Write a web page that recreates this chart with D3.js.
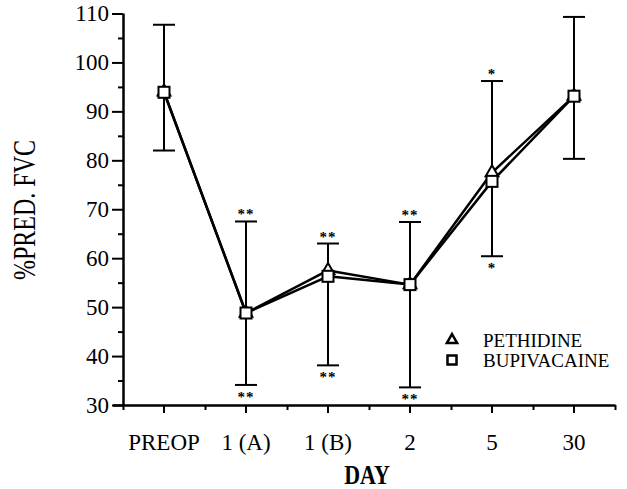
<!DOCTYPE html>
<html>
<head>
<meta charset="utf-8">
<script src="https://cdn.jsdelivr.net/npm/d3@7"></script>
<style>
  body { margin: 0; background: #fff; }
  text { font-family: "Liberation Serif", "Times New Roman", serif; fill: #000; }
</style>
</head>
<body>
<div id="chart"></div>
<script>
var days = ["PREOP", "1 (A)", "1 (B)", "2", "5", "30"];
var pethidine = [94, 48.8, 57.5, 54.6, 77.5, 93.1];
var bupivacaine = [93.9, 48.8, 56.3, 54.6, 75.7, 93.1];
var errHigh = [107.7, 67.5, 63, 67.4, 96.2, 109.3];
var errLow = [82, 34.1, 38.1, 33.6, 60.4, 80.3];
var stars = ["", "**", "**", "**", "*", ""];
var yTicks = [30, 40, 50, 60, 70, 80, 90, 100, 110];
var yMinor = [35, 45, 55, 65, 75, 85, 95, 105];

var w = 627, h = 489;
var svg = d3.select('#chart').append('svg')
  .attr('width', w).attr('height', h);

var x = d3.scaleBand().domain(days).range([123, 615]);
var y = d3.scaleLinear().domain([30, 110]).range([405, 13.5]);
function cx(d) { return x(d) + x.bandwidth() / 2; }

// y axis
var yAxis = svg.append('g').attr('transform', 'translate(123,0)')
  .call(d3.axisLeft(y).tickValues(yTicks).tickSize(11).tickPadding(3));
svg.append('g').attr('transform', 'translate(123,0)')
  .call(d3.axisLeft(y).tickValues(yMinor).tickSize(5).tickFormat(''))
  .select('.domain').remove();

// x axis
var xAxis = svg.append('g').attr('transform', 'translate(0,405)')
  .call(d3.axisBottom(x).tickSize(8));
svg.append('g').attr('transform', 'translate(0,405)')
  .call(d3.axisBottom(d3.scaleLinear().domain([0, 6]).range([123, 615]))
    .ticks(6).tickSize(5).tickFormat(''))
  .select('.domain').remove();

svg.selectAll('.domain').attr('stroke-width', 2.5);
svg.selectAll('.tick line').attr('stroke-width', 2);
yAxis.selectAll('text').style('font-size', '23px').style('font-family', '"Liberation Serif", serif');
xAxis.selectAll('text').style('font-size', '23px').style('font-family', '"Liberation Serif", serif')
  .attr('y', 45).attr('dy', 0);
// straight axis lines without end caps
xAxis.select('.domain').attr('d', 'M113,0.5H615.5');
yAxis.select('.domain').attr('d', 'M0.5,13.5V405');

// axis titles
svg.append('text')
  .attr('transform', 'translate(35,210) rotate(-90) scale(1,1.35)')
  .attr('text-anchor', 'middle')
  .style('font-size', '24px')
  .text('%PRED. FVC');
svg.append('text')
  .attr('transform', 'translate(367,484) scale(1,1.2)')
  .attr('text-anchor', 'middle')
  .style('font-size', '22px').style('font-weight', 'bold')
  .text('DAY');

// lines
var line = d3.line().x(function (d, i) { return cx(days[i]); }).y(function (d) { return y(d); });
[pethidine, bupivacaine].forEach(function (s) {
  svg.append('path').datum(s).attr('d', line)
    .attr('fill', 'none').attr('stroke', '#000').attr('stroke-width', 2.5)
    .attr('stroke-linejoin', 'round');
});

// error bars
var eb = svg.append('g').attr('stroke', '#000').attr('stroke-width', 2);
days.forEach(function (d, i) {
  eb.append('line').attr('x1', cx(d)).attr('x2', cx(d)).attr('y1', y(errHigh[i])).attr('y2', y(errLow[i]));
  [errHigh[i], errLow[i]].forEach(function (v) {
    eb.append('line').attr('x1', cx(d) - 11).attr('x2', cx(d) + 11).attr('y1', y(v)).attr('y2', y(v));
  });
});

// significance stars
days.forEach(function (d, i) {
  if (!stars[i]) return;
  svg.append('text').attr('x', cx(d)).attr('y', y(errHigh[i]) - 2)
    .attr('text-anchor', 'middle').style('font-size', '15px').style('font-weight', 'bold')
    .style('letter-spacing', '1px').text(stars[i]);
  svg.append('text').attr('x', cx(d)).attr('y', y(errLow[i]) + 17)
    .attr('text-anchor', 'middle').style('font-size', '15px').style('font-weight', 'bold')
    .style('letter-spacing', '1px').text(stars[i]);
});

// markers
var tri = d3.symbol().type(d3.symbolTriangle).size(70);
svg.selectAll('.tri').data(pethidine).enter().append('path')
  .attr('class', 'tri').attr('d', tri)
  .attr('transform', function (d, i) { return 'translate(' + cx(days[i]) + ',' + y(d) + ')'; })
  .attr('fill', '#fff').attr('stroke', '#000').attr('stroke-width', 2);
svg.selectAll('.sq').data(bupivacaine).enter().append('rect')
  .attr('class', 'sq')
  .attr('x', function (d, i) { return cx(days[i]) - 5.5; })
  .attr('y', function (d) { return y(d) - 5.5; })
  .attr('width', 11).attr('height', 11)
  .attr('fill', '#fff').attr('stroke', '#000').attr('stroke-width', 2);

// legend
var lg = svg.append('g').attr('transform', 'translate(452,340)');
lg.append('path').attr('d', d3.symbol().type(d3.symbolTriangle).size(45))
  .attr('fill', '#fff').attr('stroke', '#000').attr('stroke-width', 2.5);
lg.append('rect').attr('x', -4.5).attr('y', 15.5).attr('width', 9).attr('height', 9)
  .attr('fill', '#fff').attr('stroke', '#000').attr('stroke-width', 2.5);
lg.append('text').attr('x', 31).attr('y', 7).style('font-size', '19px').text('PETHIDINE');
lg.append('text').attr('x', 31).attr('y', 27).style('font-size', '19px').text('BUPIVACAINE');
</script>
</body>
</html>
